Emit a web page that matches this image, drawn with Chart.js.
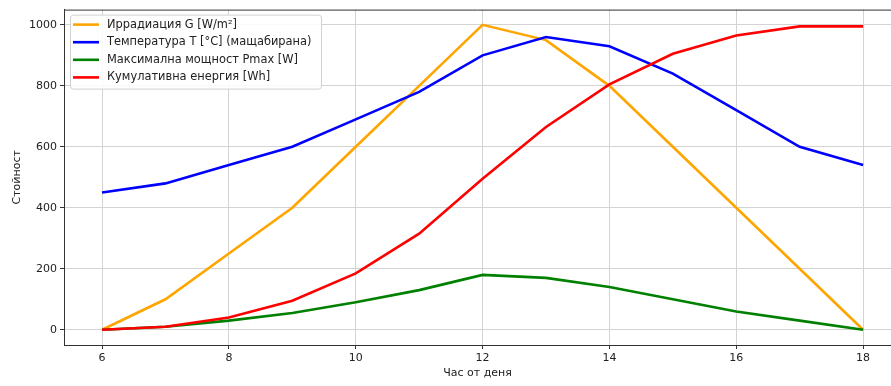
<!DOCTYPE html>
<html>
<head>
<meta charset="utf-8">
<script src="https://cdn.jsdelivr.net/npm/chart.js@4.4.1/dist/chart.umd.min.js"></script>
<style>
    html, body { margin: 0; padding: 0; background: #fff; overflow: hidden; }
    #wrap { width: 891px; height: 386px; position: relative; }
</style>
</head>
<body>
<div id="wrap"><canvas id="grafico"></canvas></div>
<script>
// --- DADOS ---
const horas = [6, 7, 8, 9, 10, 11, 12, 13, 14, 15, 16, 17, 18];
const irradiacao = [0, 100, 250, 400, 600, 800, 1000, 950, 800, 600, 400, 200, 0];
const temperatura = [450, 480, 540, 600, 690, 780, 900, 960, 930, 840, 720, 600, 540];
const pmax = [0, 10, 30, 55, 90, 130, 180, 170, 140, 100, 60, 30, 0];
const energia = [0, 10, 40, 95, 185, 315, 495, 665, 805, 905, 965, 995, 995];
const xTicks = [6, 8, 10, 12, 14, 16, 18];
const yTicks = [0, 200, 400, 600, 800, 1000];

const fonte = 'DejaVu Sans';

function serie(label, valores, cor, ordem) {
    return {
        label: label,
        data: horas.map((h, i) => ({ x: h, y: valores[i] })),
        borderColor: cor,
        backgroundColor: cor,
        borderWidth: 2.6,
        pointRadius: 0,
        tension: 0,
        order: ordem
    };
}

// legenda no estilo do matplotlib, dentro da área do gráfico
const legendaInterna = {
    id: 'legendaInterna',
    afterDatasetsDraw(chart) {
        const ctx = chart.ctx;
        const a = chart.chartArea;
        const x0 = a.left + 6, y0 = a.top + 5;
        const w = 251, h = 74, passo = 17.6;
        ctx.save();
        ctx.fillStyle = 'rgba(255,255,255,0.85)';
        ctx.strokeStyle = '#d0d0d0';
        ctx.lineWidth = 1;
        ctx.beginPath();
        ctx.roundRect(x0 + 0.5, y0 + 0.5, w, h, 3);
        ctx.fill();
        ctx.stroke();
        ctx.font = '11.4px ' + fonte;
        ctx.textBaseline = 'middle';
        chart.data.datasets.forEach((ds, i) => {
            const y = y0 + 10 + i * passo;
            ctx.strokeStyle = ds.borderColor;
            ctx.lineWidth = 2.6;
            ctx.beginPath();
            ctx.moveTo(x0 + 3, y);
            ctx.lineTo(x0 + 29, y);
            ctx.stroke();
            ctx.fillStyle = '#222';
            ctx.fillText(ds.label, x0 + 37, y);
        });
        ctx.restore();
    }
};

// moldura superior
const bordaTopo = {
    id: 'bordaTopo',
    afterDraw(chart) {
        const ctx = chart.ctx;
        const a = chart.chartArea;
        ctx.save();
        ctx.strokeStyle = '#333';
        ctx.lineWidth = 1;
        ctx.beginPath();
        ctx.moveTo(a.left, a.top + 0.5);
        ctx.lineTo(a.right, a.top + 0.5);
        ctx.stroke();
        ctx.restore();
    }
};

new Chart(document.getElementById('grafico'), {
    type: 'line',
    data: {
        datasets: [
            serie('Иррадиация G [W/m²]', irradiacao, '#FFA500', 4),
            serie('Температура T [°C] (мащабирана)', temperatura, '#0000FF', 3),
            serie('Максимална мощност Pmax [W]', pmax, '#008000', 2),
            serie('Кумулативна енергия [Wh]', energia, '#FF0000', 1)
        ]
    },
    options: {
        responsive: true,
        maintainAspectRatio: false,
        animation: false,
        layout: { padding: { top: 8, right: 0, left: 11, bottom: 6 } },
        plugins: {
            legend: { display: false },
            tooltip: { enabled: false }
        },
        scales: {
            x: {
                type: 'linear',
                min: 5.4,
                max: 18.44,
                afterBuildTicks: s => { s.ticks = xTicks.map(v => ({ value: v })); },
                afterFit: s => { s.height = 35; },
                ticks: { color: '#222', font: { family: fonte, size: 11 }, padding: 3, maxRotation: 0, callback: v => String(v) },
                grid: { color: '#d3d3d3', lineWidth: 1, tickLength: 4, tickColor: '#333' },
                border: { color: '#333', width: 1 },
                title: { display: true, text: 'Час от деня', color: '#222', font: { family: fonte, size: 11 }, padding: { top: 2, bottom: 0 } }
            },
            y: {
                min: -50,
                max: 1050,
                afterBuildTicks: s => { s.ticks = yTicks.map(v => ({ value: v })); },
                afterFit: s => { s.width = 53; },
                ticks: { color: '#222', font: { family: fonte, size: 11 }, padding: 3, callback: v => String(v) },
                grid: { color: '#d3d3d3', lineWidth: 1, tickLength: 4, tickColor: '#333' },
                border: { color: '#333', width: 1 },
                title: { display: true, text: 'Стойност', color: '#222', font: { family: fonte, size: 11 }, padding: { top: 0, bottom: 4 } }
            }
        }
    },
    plugins: [legendaInterna, bordaTopo]
});
</script>
</body>
</html>
